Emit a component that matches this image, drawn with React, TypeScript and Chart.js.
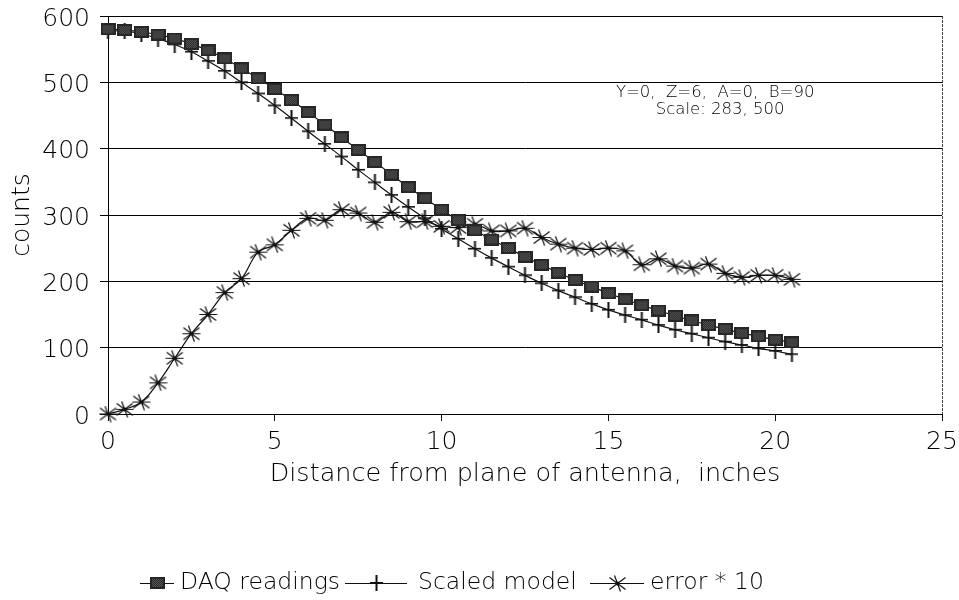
import React, { useEffect, useRef } from "react";
import { Chart, registerables } from "chart.js";

Chart.register(...registerables);

// ---- data ----
const xValues = [
  0, 0.5, 1, 1.5, 2, 2.5, 3, 3.5, 4, 4.5, 5, 5.5, 6, 6.5, 7, 7.5, 8, 8.5, 9, 9.5,
  10, 10.5, 11, 11.5, 12, 12.5, 13, 13.5, 14, 14.5, 15, 15.5, 16, 16.5, 17, 17.5,
  18, 18.5, 19, 19.5, 20, 20.5,
];
const daqReadings = [
  580, 579, 576, 572, 566, 558, 548, 536, 521, 506, 490, 473, 455, 436, 417, 398,
  380, 361, 342, 325, 308, 292, 277, 263, 250, 237, 225, 213, 202, 192, 182, 173,
  164, 156, 148, 141, 134, 128, 122, 117, 112, 108,
];
const scaledModel = [
  578, 577, 573, 566, 557, 546, 532, 517, 500, 483, 465, 446, 426, 407, 388, 368,
  349, 330, 312, 295, 279, 264, 249, 235, 222, 209, 197, 186, 176, 166, 157, 149,
  142, 134, 127, 121, 115, 109, 104, 99, 95, 90,
];
const errorTimes10 = [
  0, 7, 18, 47, 84, 121, 150, 183, 204, 244, 255, 277, 295, 292, 308, 303, 289,
  304, 290, 290, 283, 281, 286, 276, 276, 280, 266, 256, 250, 248, 250, 246, 225,
  234, 223, 220, 226, 212, 206, 209, 209, 203,
];
const seriesLabels = ["DAQ readings", "Scaled model", "error * 10"];
const xTickValues = [0, 5, 10, 15, 20, 25];
const yTickValues = [0, 100, 200, 300, 400, 500, 600];
const xTitle = "Distance from plane of antenna,  inches";
const yTitle = "counts";
const noteLines = ["Y=0,  Z=6,  A=0,  B=90", "Scale: 283, 500"];
const notePos = [
  { x: 18.2, y: 485 },
  { x: 18.35, y: 458 },
];

const FONT = "'DejaVu Sans', 'Century Gothic', sans-serif";

// legend layout (canvas px): line start, line length, text start
const legendLayout = [
  { line: 140, len: 34, text: 180 },
  { line: 345, len: 62, text: 418 },
  { line: 590, len: 54, text: 650 },
];

function makeSquare(): HTMLCanvasElement {
  const c = document.createElement("canvas");
  c.width = 15;
  c.height = 12;
  const g = c.getContext("2d")!;
  g.fillStyle = "#262626";
  g.fillRect(0, 0, 15, 12);
  g.fillStyle = "#5a5a5a";
  for (let yy = 2; yy < 10; yy++) {
    for (let xx = 2; xx < 13; xx++) {
      if ((xx + yy) % 2 === 0) g.fillRect(xx, yy, 1, 1);
    }
  }
  return c;
}

function makePlus(): HTMLCanvasElement {
  const c = document.createElement("canvas");
  c.width = 13;
  c.height = 16;
  const g = c.getContext("2d")!;
  g.fillStyle = "#111";
  g.fillRect(5.5, 0, 2, 16);
  g.fillRect(0, 7, 13, 1.6);
  return c;
}

function makeStar(): HTMLCanvasElement {
  const c = document.createElement("canvas");
  c.width = 19;
  c.height = 17;
  const g = c.getContext("2d")!;
  g.strokeStyle = "#111";
  g.lineWidth = 1.2;
  const cx = 9.5;
  const cy = 8.5;
  const arms = [
    [9, 0],
    [8, 6],
    [8, -6],
    [3, 8],
  ];
  g.beginPath();
  for (const [dx, dy] of arms) {
    g.moveTo(cx - dx, cy - dy);
    g.lineTo(cx + dx, cy + dy);
  }
  g.stroke();
  g.fillStyle = "#111";
  g.beginPath();
  g.arc(cx, cy, 2, 0, Math.PI * 2);
  g.fill();
  return c;
}

export default function App() {
  const ref = useRef<HTMLCanvasElement | null>(null);

  useEffect(() => {
    if (!ref.current) return;
    const square = makeSquare();
    const plus = makePlus();
    const star = makeStar();
    const markers = [square, plus, star];

    const extras = {
      id: "extras",
      afterDraw(chart: any) {
        const { ctx, chartArea, scales } = chart;
        ctx.save();
        // top & right frame
        ctx.strokeStyle = "#000";
        ctx.lineWidth = 1;
        ctx.beginPath();
        ctx.moveTo(chartArea.left, chartArea.top + 0.5);
        ctx.lineTo(chartArea.right, chartArea.top + 0.5);
        ctx.stroke();
        ctx.strokeStyle = "#444";
        ctx.setLineDash([3, 1]);
        ctx.beginPath();
        ctx.moveTo(chartArea.right + 0.5, chartArea.top);
        ctx.lineTo(chartArea.right + 0.5, chartArea.bottom);
        ctx.stroke();
        ctx.setLineDash([]);

        // annotation
        ctx.fillStyle = "#000";
        ctx.font = `200 16.5px ${FONT}`;
        ctx.textAlign = "center";
        ctx.textBaseline = "middle";
        noteLines.forEach((t, i) => {
          ctx.fillText(
            t,
            scales.x.getPixelForValue(notePos[i].x),
            scales.y.getPixelForValue(notePos[i].y)
          );
        });

        // legend
        ctx.font = `200 23.5px ${FONT}`;
        ctx.textAlign = "left";
        const ly = 583;
        seriesLabels.forEach((label, i) => {
          const L = legendLayout[i];
          ctx.strokeStyle = "#111";
          ctx.lineWidth = 1.2;
          ctx.beginPath();
          ctx.moveTo(L.line, ly + 0.5);
          ctx.lineTo(L.line + L.len, ly + 0.5);
          ctx.stroke();
          const m = markers[i];
          ctx.drawImage(
            m,
            Math.round(L.line + L.len / 2 - m.width / 2),
            Math.round(ly - m.height / 2)
          );
          ctx.fillStyle = "#000";
          ctx.fillText(label, L.text, ly);
        });
        ctx.restore();
      },
    };

    const mk = (i: number, values: number[]) => ({
      label: seriesLabels[i],
      data: xValues.map((x, k) => ({ x, y: values[k] })),
      borderColor: "#111",
      borderWidth: 1.2,
      backgroundColor: "#111",
      pointStyle: markers[i],
      pointRadius: 8,
      tension: 0.4,
      clip: false as any,
    });

    const chart = new Chart(ref.current, {
      type: "line",
      data: {
        datasets: [mk(0, daqReadings), mk(1, scaledModel), mk(2, errorTimes10)],
      },
      plugins: [extras],
      options: {
        animation: false,
        responsive: true,
        maintainAspectRatio: false,
        layout: { padding: { top: 16, right: 17, left: 0, bottom: 106 } },
        plugins: { legend: { display: false }, tooltip: { enabled: false } },
        scales: {
          x: {
            type: "linear",
            min: 0,
            max: 25,
            afterFit: (s: any) => {
              s.height = 80;
              s.paddingLeft = 0;
              s.paddingRight = 0;
              s.paddingTop = 0;
              s.paddingBottom = 0;
            },
            afterBuildTicks: (s: any) => {
              s.ticks = xTickValues.map((v) => ({ value: v }));
            },
            ticks: {
              color: "#000",
              padding: 6,
              font: { family: FONT, size: 25, weight: 200 as any, lineHeight: 1.2 },
            },
            grid: {
              drawOnChartArea: false,
              drawTicks: true,
              tickLength: 7,
              color: "#111",
            },
            border: { display: true, color: "#000", width: 1 },
            title: {
              display: true,
              text: xTitle,
              color: "#000",
              padding: { top: 0, bottom: 4 },
              font: { family: FONT, size: 25.5, weight: 200 as any, lineHeight: 1.2 },
            },
          },
          y: {
            min: 0,
            max: 600,
            afterFit: (s: any) => {
              s.width = 108;
              s.paddingTop = 0;
              s.paddingBottom = 0;
              s.paddingLeft = 0;
              s.paddingRight = 0;
            },
            afterBuildTicks: (s: any) => {
              s.ticks = yTickValues.map((v) => ({ value: v }));
            },
            ticks: {
              color: "#000",
              padding: 10,
              labelOffset: 3,
              font: { family: FONT, size: 25, weight: 200 as any, lineHeight: 1.2 },
            },
            grid: { color: "#000", lineWidth: 1, drawTicks: true, tickLength: 8 },
            border: { display: true, color: "#000", width: 1 },
            title: {
              display: true,
              text: yTitle,
              color: "#000",
              padding: { top: 7, bottom: 0 },
              font: { family: FONT, size: 25, weight: 200 as any, lineHeight: 1.2 },
            },
          },
        },
      },
    });
    return () => chart.destroy();
  }, []);

  return (
    <div style={{ position: "absolute", left: 0, top: 0, width: 959, height: 600 }}>
      <canvas ref={ref} />
    </div>
  );
}
